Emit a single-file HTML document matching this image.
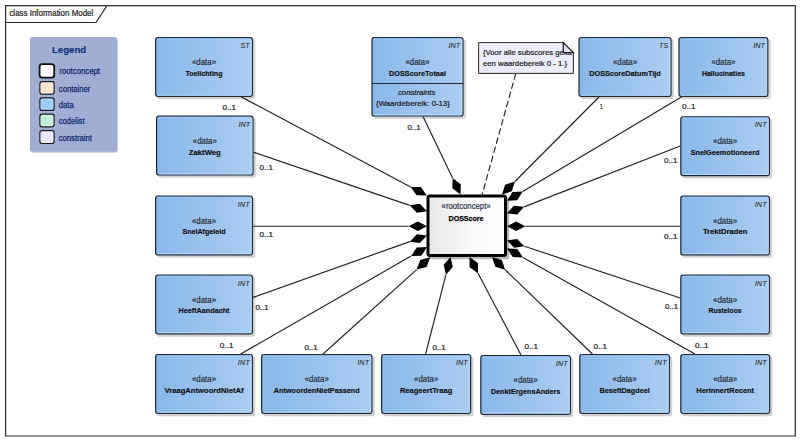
<!DOCTYPE html>
<html><head><meta charset="utf-8"><title>class Information Model</title>
<style>
html,body{margin:0;padding:0;background:#fff;}
svg{display:block;font-family:"Liberation Sans",sans-serif;}
</style></head><body>
<svg width="800" height="441" viewBox="0 0 800 441">
<defs>
<linearGradient id="gd" x1="0" y1="0" x2="1" y2="0"><stop offset="0" stop-color="#8ab8ea"/><stop offset="1" stop-color="#abcdf1"/></linearGradient>
<linearGradient id="gr" x1="0" y1="0" x2="1" y2="0"><stop offset="0" stop-color="#e8e8e8"/><stop offset="0.6" stop-color="#fafafa"/><stop offset="1" stop-color="#ffffff"/></linearGradient>
<filter id="sh" x="-10%" y="-10%" width="130%" height="130%"><feGaussianBlur stdDeviation="0.6"/></filter>
</defs>
<rect x="0" y="0" width="800" height="441" fill="#ffffff"/>

<path d="M5.6 5.6 H795.3 V436.0 H5.6 Z" fill="none" stroke="#2b2b2b" stroke-width="1.2"/>
<path d="M5.6 22.5 H96 L107 5.6" fill="none" stroke="#2b2b2b" stroke-width="1.2"/>
<text x="9.40" y="16.00" font-size="8.2" font-weight="normal" font-style="normal" fill="#222" textLength="83.90" lengthAdjust="spacingAndGlyphs" stroke="#222" stroke-width="0.2">class Information Model</text>
<rect x="31" y="38.2" width="87.2" height="114.8" rx="2.5" fill="#d4d8e4" filter="url(#sh)"/>
<rect x="30" y="37" width="87.2" height="114.8" rx="2.5" fill="#a0aed4"/>
<text x="51.90" y="53.00" font-size="9.8" font-weight="bold" font-style="normal" fill="#10307a" textLength="34.35" lengthAdjust="spacingAndGlyphs" stroke="#10307a" stroke-width="0.18">Legend</text>
<rect x="39.6" y="64.15" width="14.6" height="13.45" rx="2.6" fill="#ffffff" stroke="#111" stroke-width="1.8"/>
<text x="59.40" y="74.30" font-size="8.3" font-weight="normal" font-style="normal" fill="#10296a" textLength="40.60" lengthAdjust="spacingAndGlyphs" stroke="#10296a" stroke-width="0.25">rootconcept</text>
<rect x="39.9" y="81.70" width="14.2" height="12.50" rx="2.2" fill="#fbe4d2" stroke="#1a1a1a" stroke-width="1.2"/>
<rect x="41.1" y="82.90" width="11.8" height="10.10" rx="1.2" fill="none" stroke="#ffffff" stroke-opacity="0.45" stroke-width="0.8"/>
<text x="58.80" y="91.80" font-size="8.3" font-weight="normal" font-style="normal" fill="#10296a" textLength="31.60" lengthAdjust="spacingAndGlyphs" stroke="#10296a" stroke-width="0.25">container</text>
<rect x="39.9" y="97.90" width="14.2" height="12.50" rx="2.2" fill="#9ccdfc" stroke="#1a1a1a" stroke-width="1.2"/>
<rect x="41.1" y="99.10" width="11.8" height="10.10" rx="1.2" fill="none" stroke="#ffffff" stroke-opacity="0.45" stroke-width="0.8"/>
<text x="58.80" y="107.90" font-size="8.3" font-weight="normal" font-style="normal" fill="#10296a" textLength="14.90" lengthAdjust="spacingAndGlyphs" stroke="#10296a" stroke-width="0.25">data</text>
<rect x="39.9" y="114.20" width="14.2" height="12.60" rx="2.2" fill="#c4ecdc" stroke="#1a1a1a" stroke-width="1.2"/>
<rect x="41.1" y="115.40" width="11.8" height="10.20" rx="1.2" fill="none" stroke="#ffffff" stroke-opacity="0.45" stroke-width="0.8"/>
<text x="58.80" y="124.10" font-size="8.3" font-weight="normal" font-style="normal" fill="#10296a" textLength="25.70" lengthAdjust="spacingAndGlyphs" stroke="#10296a" stroke-width="0.25">codelist</text>
<rect x="39.9" y="130.60" width="14.2" height="12.90" rx="2.2" fill="#e8e8fc" stroke="#1a1a1a" stroke-width="1.2"/>
<rect x="41.1" y="131.80" width="11.8" height="10.50" rx="1.2" fill="none" stroke="#ffffff" stroke-opacity="0.45" stroke-width="0.8"/>
<text x="58.80" y="140.80" font-size="8.3" font-weight="normal" font-style="normal" fill="#10296a" textLength="33.10" lengthAdjust="spacingAndGlyphs" stroke="#10296a" stroke-width="0.25">constraint</text>
<rect x="157.20" y="39.20" width="98.00" height="60.00" rx="2.5" fill="#d0d0d0" filter="url(#sh)"/>
<rect x="158.20" y="117.80" width="97.60" height="60.00" rx="2.5" fill="#d0d0d0" filter="url(#sh)"/>
<rect x="157.20" y="197.70" width="98.00" height="60.00" rx="2.5" fill="#d0d0d0" filter="url(#sh)"/>
<rect x="157.20" y="276.70" width="98.00" height="60.00" rx="2.5" fill="#d0d0d0" filter="url(#sh)"/>
<rect x="157.20" y="356.20" width="98.00" height="60.00" rx="2.5" fill="#d0d0d0" filter="url(#sh)"/>
<rect x="263.20" y="356.20" width="111.50" height="60.00" rx="2.5" fill="#d0d0d0" filter="url(#sh)"/>
<rect x="383.20" y="356.20" width="90.20" height="60.00" rx="2.5" fill="#d0d0d0" filter="url(#sh)"/>
<rect x="482.40" y="357.20" width="90.80" height="60.00" rx="2.5" fill="#d0d0d0" filter="url(#sh)"/>
<rect x="581.40" y="356.20" width="90.80" height="60.00" rx="2.5" fill="#d0d0d0" filter="url(#sh)"/>
<rect x="682.40" y="356.20" width="90.00" height="60.00" rx="2.5" fill="#d0d0d0" filter="url(#sh)"/>
<rect x="682.40" y="276.70" width="89.80" height="60.00" rx="2.5" fill="#d0d0d0" filter="url(#sh)"/>
<rect x="682.40" y="197.70" width="89.80" height="60.00" rx="2.5" fill="#d0d0d0" filter="url(#sh)"/>
<rect x="682.40" y="118.40" width="89.80" height="60.00" rx="2.5" fill="#d0d0d0" filter="url(#sh)"/>
<rect x="680.60" y="39.20" width="90.00" height="60.00" rx="2.5" fill="#d0d0d0" filter="url(#sh)"/>
<rect x="580.60" y="39.20" width="93.20" height="60.00" rx="2.5" fill="#d0d0d0" filter="url(#sh)"/>
<rect x="373.60" y="39.20" width="92.20" height="79.60" rx="2.5" fill="#d0d0d0" filter="url(#sh)"/>
<rect x="429.3" y="197.3" width="80" height="62" rx="2.5" fill="#b8b8b8" filter="url(#sh)"/>
<line x1="241.00" y1="96.80" x2="410.64" y2="186.91" stroke="#202020" stroke-width="1.15"/>
<polygon points="426.80,195.50 420.92,187.06 410.64,186.91 416.51,195.36" fill="#000"/>
<line x1="253.60" y1="152.20" x2="409.68" y2="205.35" stroke="#202020" stroke-width="1.15"/>
<polygon points="427.00,211.25 419.85,203.85 409.68,205.35 416.82,212.75" fill="#000"/>
<line x1="253.00" y1="226.20" x2="408.70" y2="226.20" stroke="#202020" stroke-width="1.15"/>
<polygon points="427.00,226.20 417.85,221.50 408.70,226.20 417.85,230.90" fill="#000"/>
<line x1="253.00" y1="297.40" x2="409.76" y2="241.63" stroke="#202020" stroke-width="1.15"/>
<polygon points="427.00,235.50 416.80,234.14 409.76,241.63 419.95,242.99" fill="#000"/>
<line x1="240.70" y1="354.00" x2="411.13" y2="256.11" stroke="#202020" stroke-width="1.15"/>
<polygon points="427.00,247.00 416.72,247.48 411.13,256.11 421.41,255.63" fill="#000"/>
<line x1="323.00" y1="354.00" x2="416.61" y2="269.56" stroke="#202020" stroke-width="1.15"/>
<polygon points="430.20,257.30 420.26,259.94 416.61,269.56 426.55,266.92" fill="#000"/>
<line x1="425.60" y1="354.00" x2="445.95" y2="274.73" stroke="#202020" stroke-width="1.15"/>
<polygon points="450.50,257.00 443.67,264.69 445.95,274.73 452.78,267.03" fill="#000"/>
<line x1="521.00" y1="355.00" x2="478.01" y2="273.20" stroke="#202020" stroke-width="1.15"/>
<polygon points="469.50,257.00 469.60,267.29 478.01,273.20 477.92,262.91" fill="#000"/>
<line x1="592.40" y1="354.00" x2="505.16" y2="269.72" stroke="#202020" stroke-width="1.15"/>
<polygon points="492.00,257.00 495.31,266.74 505.16,269.72 501.85,259.98" fill="#000"/>
<line x1="695.00" y1="354.00" x2="522.96" y2="257.46" stroke="#202020" stroke-width="1.15"/>
<polygon points="507.00,248.50 512.68,257.08 522.96,257.46 517.28,248.88" fill="#000"/>
<line x1="680.20" y1="298.00" x2="524.37" y2="246.27" stroke="#202020" stroke-width="1.15"/>
<polygon points="507.00,240.50 514.20,247.84 524.37,246.27 517.16,238.92" fill="#000"/>
<line x1="680.20" y1="226.20" x2="525.30" y2="226.20" stroke="#202020" stroke-width="1.15"/>
<polygon points="507.00,226.20 516.15,230.90 525.30,226.20 516.15,221.50" fill="#000"/>
<line x1="680.20" y1="146.00" x2="524.05" y2="206.85" stroke="#202020" stroke-width="1.15"/>
<polygon points="507.00,213.50 517.23,214.56 524.05,206.85 513.82,205.80" fill="#000"/>
<line x1="681.40" y1="97.00" x2="522.73" y2="191.44" stroke="#202020" stroke-width="1.15"/>
<polygon points="507.00,200.80 517.27,200.16 522.73,191.44 512.46,192.08" fill="#000"/>
<line x1="599.00" y1="97.00" x2="514.91" y2="181.53" stroke="#202020" stroke-width="1.15"/>
<polygon points="502.00,194.50 511.79,191.33 514.91,181.53 505.12,184.70" fill="#000"/>
<line x1="423.00" y1="116.60" x2="452.56" y2="178.01" stroke="#202020" stroke-width="1.15"/>
<polygon points="460.50,194.50 460.77,184.22 452.56,178.01 452.30,188.29" fill="#000"/>
<line x1="515.8" y1="73.4" x2="482.2" y2="194.5" stroke="#1a1a1a" stroke-width="1.1" stroke-dasharray="6.5 3"/>
<rect x="155.60" y="37.60" width="96.80" height="58.80" rx="2.3" fill="url(#gd)" stroke="#1e2733" stroke-width="1.2"/>
<path d="M157.20 38.70 H251.00" stroke="#9ccbfb" stroke-width="0.9" fill="none"/>
<path d="M251.20 39.50 V95.20 H157.50" stroke="#b9dcfe" stroke-width="0.9" fill="none"/>
<text x="240.50" y="48.10" font-size="7.4" font-weight="normal" font-style="italic" fill="#262626" textLength="9.10" lengthAdjust="spacingAndGlyphs" stroke="#262626" stroke-width="0.05">ST</text>
<text x="192.00" y="65.20" font-size="8.3" font-weight="normal" font-style="normal" fill="#27303c" textLength="24.00" lengthAdjust="spacingAndGlyphs" stroke="#27303c" stroke-width="0.2">«data»</text>
<text x="185.55" y="75.90" font-size="7.8" font-weight="bold" font-style="normal" fill="#111" textLength="36.90" lengthAdjust="spacingAndGlyphs" stroke="#111" stroke-width="0.18">Toelichting</text>
<rect x="156.60" y="116.20" width="96.40" height="58.80" rx="2.3" fill="url(#gd)" stroke="#1e2733" stroke-width="1.2"/>
<path d="M158.20 117.30 H251.60" stroke="#9ccbfb" stroke-width="0.9" fill="none"/>
<path d="M251.80 118.10 V173.80 H158.50" stroke="#b9dcfe" stroke-width="0.9" fill="none"/>
<text x="238.45" y="126.70" font-size="7.4" font-weight="normal" font-style="italic" fill="#262626" textLength="11.75" lengthAdjust="spacingAndGlyphs" stroke="#262626" stroke-width="0.05">INT</text>
<text x="192.80" y="143.80" font-size="8.3" font-weight="normal" font-style="normal" fill="#27303c" textLength="24.00" lengthAdjust="spacingAndGlyphs" stroke="#27303c" stroke-width="0.2">«data»</text>
<text x="188.80" y="154.50" font-size="7.8" font-weight="bold" font-style="normal" fill="#111" textLength="32.00" lengthAdjust="spacingAndGlyphs" stroke="#111" stroke-width="0.18">ZaktWeg</text>
<rect x="155.60" y="196.10" width="96.80" height="58.80" rx="2.3" fill="url(#gd)" stroke="#1e2733" stroke-width="1.2"/>
<path d="M157.20 197.20 H251.00" stroke="#9ccbfb" stroke-width="0.9" fill="none"/>
<path d="M251.20 198.00 V253.70 H157.50" stroke="#b9dcfe" stroke-width="0.9" fill="none"/>
<text x="237.85" y="206.60" font-size="7.4" font-weight="normal" font-style="italic" fill="#262626" textLength="11.75" lengthAdjust="spacingAndGlyphs" stroke="#262626" stroke-width="0.05">INT</text>
<text x="192.00" y="223.70" font-size="8.3" font-weight="normal" font-style="normal" fill="#27303c" textLength="24.00" lengthAdjust="spacingAndGlyphs" stroke="#27303c" stroke-width="0.2">«data»</text>
<text x="182.50" y="234.40" font-size="7.8" font-weight="bold" font-style="normal" fill="#111" textLength="43.00" lengthAdjust="spacingAndGlyphs" stroke="#111" stroke-width="0.18">SnelAfgeleid</text>
<rect x="155.60" y="275.10" width="96.80" height="58.80" rx="2.3" fill="url(#gd)" stroke="#1e2733" stroke-width="1.2"/>
<path d="M157.20 276.20 H251.00" stroke="#9ccbfb" stroke-width="0.9" fill="none"/>
<path d="M251.20 277.00 V332.70 H157.50" stroke="#b9dcfe" stroke-width="0.9" fill="none"/>
<text x="237.85" y="285.60" font-size="7.4" font-weight="normal" font-style="italic" fill="#262626" textLength="11.75" lengthAdjust="spacingAndGlyphs" stroke="#262626" stroke-width="0.05">INT</text>
<text x="192.00" y="302.70" font-size="8.3" font-weight="normal" font-style="normal" fill="#27303c" textLength="24.00" lengthAdjust="spacingAndGlyphs" stroke="#27303c" stroke-width="0.2">«data»</text>
<text x="178.50" y="313.40" font-size="7.8" font-weight="bold" font-style="normal" fill="#111" textLength="51.00" lengthAdjust="spacingAndGlyphs" stroke="#111" stroke-width="0.18">HeeftAandacht</text>
<rect x="155.60" y="354.60" width="96.80" height="58.80" rx="2.3" fill="url(#gd)" stroke="#1e2733" stroke-width="1.2"/>
<path d="M157.20 355.70 H251.00" stroke="#9ccbfb" stroke-width="0.9" fill="none"/>
<path d="M251.20 356.50 V412.20 H157.50" stroke="#b9dcfe" stroke-width="0.9" fill="none"/>
<text x="237.85" y="365.10" font-size="7.4" font-weight="normal" font-style="italic" fill="#262626" textLength="11.75" lengthAdjust="spacingAndGlyphs" stroke="#262626" stroke-width="0.05">INT</text>
<text x="192.00" y="382.20" font-size="8.3" font-weight="normal" font-style="normal" fill="#27303c" textLength="24.00" lengthAdjust="spacingAndGlyphs" stroke="#27303c" stroke-width="0.2">«data»</text>
<text x="164.50" y="392.90" font-size="7.8" font-weight="bold" font-style="normal" fill="#111" textLength="79.00" lengthAdjust="spacingAndGlyphs" stroke="#111" stroke-width="0.18">VraagAntwoordNietAf</text>
<rect x="261.60" y="354.60" width="110.30" height="58.80" rx="2.3" fill="url(#gd)" stroke="#1e2733" stroke-width="1.2"/>
<path d="M263.20 355.70 H370.50" stroke="#9ccbfb" stroke-width="0.9" fill="none"/>
<path d="M370.70 356.50 V412.20 H263.50" stroke="#b9dcfe" stroke-width="0.9" fill="none"/>
<text x="357.35" y="365.10" font-size="7.4" font-weight="normal" font-style="italic" fill="#262626" textLength="11.75" lengthAdjust="spacingAndGlyphs" stroke="#262626" stroke-width="0.05">INT</text>
<text x="304.75" y="382.20" font-size="8.3" font-weight="normal" font-style="normal" fill="#27303c" textLength="24.00" lengthAdjust="spacingAndGlyphs" stroke="#27303c" stroke-width="0.2">«data»</text>
<text x="273.85" y="392.90" font-size="7.8" font-weight="bold" font-style="normal" fill="#111" textLength="85.80" lengthAdjust="spacingAndGlyphs" stroke="#111" stroke-width="0.18">AntwoordenNietPassend</text>
<rect x="381.60" y="354.60" width="89.00" height="58.80" rx="2.3" fill="url(#gd)" stroke="#1e2733" stroke-width="1.2"/>
<path d="M383.20 355.70 H469.20" stroke="#9ccbfb" stroke-width="0.9" fill="none"/>
<path d="M469.40 356.50 V412.20 H383.50" stroke="#b9dcfe" stroke-width="0.9" fill="none"/>
<text x="456.05" y="365.10" font-size="7.4" font-weight="normal" font-style="italic" fill="#262626" textLength="11.75" lengthAdjust="spacingAndGlyphs" stroke="#262626" stroke-width="0.05">INT</text>
<text x="414.10" y="382.20" font-size="8.3" font-weight="normal" font-style="normal" fill="#27303c" textLength="24.00" lengthAdjust="spacingAndGlyphs" stroke="#27303c" stroke-width="0.2">«data»</text>
<text x="399.90" y="392.90" font-size="7.8" font-weight="bold" font-style="normal" fill="#111" textLength="52.40" lengthAdjust="spacingAndGlyphs" stroke="#111" stroke-width="0.18">ReageertTraag</text>
<rect x="480.80" y="355.60" width="89.60" height="58.80" rx="2.3" fill="url(#gd)" stroke="#1e2733" stroke-width="1.2"/>
<path d="M482.40 356.70 H569.00" stroke="#9ccbfb" stroke-width="0.9" fill="none"/>
<path d="M569.20 357.50 V413.20 H482.70" stroke="#b9dcfe" stroke-width="0.9" fill="none"/>
<text x="555.85" y="366.10" font-size="7.4" font-weight="normal" font-style="italic" fill="#262626" textLength="11.75" lengthAdjust="spacingAndGlyphs" stroke="#262626" stroke-width="0.05">INT</text>
<text x="513.60" y="383.20" font-size="8.3" font-weight="normal" font-style="normal" fill="#27303c" textLength="24.00" lengthAdjust="spacingAndGlyphs" stroke="#27303c" stroke-width="0.2">«data»</text>
<text x="490.90" y="393.90" font-size="7.8" font-weight="bold" font-style="normal" fill="#111" textLength="69.40" lengthAdjust="spacingAndGlyphs" stroke="#111" stroke-width="0.18">DenktErgensAnders</text>
<rect x="579.80" y="354.60" width="89.60" height="58.80" rx="2.3" fill="url(#gd)" stroke="#1e2733" stroke-width="1.2"/>
<path d="M581.40 355.70 H668.00" stroke="#9ccbfb" stroke-width="0.9" fill="none"/>
<path d="M668.20 356.50 V412.20 H581.70" stroke="#b9dcfe" stroke-width="0.9" fill="none"/>
<text x="654.85" y="365.10" font-size="7.4" font-weight="normal" font-style="italic" fill="#262626" textLength="11.75" lengthAdjust="spacingAndGlyphs" stroke="#262626" stroke-width="0.05">INT</text>
<text x="612.60" y="382.20" font-size="8.3" font-weight="normal" font-style="normal" fill="#27303c" textLength="24.00" lengthAdjust="spacingAndGlyphs" stroke="#27303c" stroke-width="0.2">«data»</text>
<text x="599.40" y="392.90" font-size="7.8" font-weight="bold" font-style="normal" fill="#111" textLength="50.40" lengthAdjust="spacingAndGlyphs" stroke="#111" stroke-width="0.18">BeseftDagdeel</text>
<rect x="680.80" y="354.60" width="88.80" height="58.80" rx="2.3" fill="url(#gd)" stroke="#1e2733" stroke-width="1.2"/>
<path d="M682.40 355.70 H768.20" stroke="#9ccbfb" stroke-width="0.9" fill="none"/>
<path d="M768.40 356.50 V412.20 H682.70" stroke="#b9dcfe" stroke-width="0.9" fill="none"/>
<text x="755.05" y="365.10" font-size="7.4" font-weight="normal" font-style="italic" fill="#262626" textLength="11.75" lengthAdjust="spacingAndGlyphs" stroke="#262626" stroke-width="0.05">INT</text>
<text x="713.20" y="382.20" font-size="8.3" font-weight="normal" font-style="normal" fill="#27303c" textLength="24.00" lengthAdjust="spacingAndGlyphs" stroke="#27303c" stroke-width="0.2">«data»</text>
<text x="696.35" y="392.90" font-size="7.8" font-weight="bold" font-style="normal" fill="#111" textLength="57.70" lengthAdjust="spacingAndGlyphs" stroke="#111" stroke-width="0.18">HerinnertRecent</text>
<rect x="680.80" y="275.10" width="88.60" height="58.80" rx="2.3" fill="url(#gd)" stroke="#1e2733" stroke-width="1.2"/>
<path d="M682.40 276.20 H768.00" stroke="#9ccbfb" stroke-width="0.9" fill="none"/>
<path d="M768.20 277.00 V332.70 H682.70" stroke="#b9dcfe" stroke-width="0.9" fill="none"/>
<text x="754.85" y="285.60" font-size="7.4" font-weight="normal" font-style="italic" fill="#262626" textLength="11.75" lengthAdjust="spacingAndGlyphs" stroke="#262626" stroke-width="0.05">INT</text>
<text x="713.10" y="302.70" font-size="8.3" font-weight="normal" font-style="normal" fill="#27303c" textLength="24.00" lengthAdjust="spacingAndGlyphs" stroke="#27303c" stroke-width="0.2">«data»</text>
<text x="708.50" y="313.40" font-size="7.8" font-weight="bold" font-style="normal" fill="#111" textLength="33.20" lengthAdjust="spacingAndGlyphs" stroke="#111" stroke-width="0.18">Rusteloos</text>
<rect x="680.80" y="196.10" width="88.60" height="58.80" rx="2.3" fill="url(#gd)" stroke="#1e2733" stroke-width="1.2"/>
<path d="M682.40 197.20 H768.00" stroke="#9ccbfb" stroke-width="0.9" fill="none"/>
<path d="M768.20 198.00 V253.70 H682.70" stroke="#b9dcfe" stroke-width="0.9" fill="none"/>
<text x="754.85" y="206.60" font-size="7.4" font-weight="normal" font-style="italic" fill="#262626" textLength="11.75" lengthAdjust="spacingAndGlyphs" stroke="#262626" stroke-width="0.05">INT</text>
<text x="713.10" y="223.70" font-size="8.3" font-weight="normal" font-style="normal" fill="#27303c" textLength="24.00" lengthAdjust="spacingAndGlyphs" stroke="#27303c" stroke-width="0.2">«data»</text>
<text x="702.90" y="234.40" font-size="7.8" font-weight="bold" font-style="normal" fill="#111" textLength="44.40" lengthAdjust="spacingAndGlyphs" stroke="#111" stroke-width="0.18">TrektDraden</text>
<rect x="680.80" y="116.80" width="88.60" height="58.80" rx="2.3" fill="url(#gd)" stroke="#1e2733" stroke-width="1.2"/>
<path d="M682.40 117.90 H768.00" stroke="#9ccbfb" stroke-width="0.9" fill="none"/>
<path d="M768.20 118.70 V174.40 H682.70" stroke="#b9dcfe" stroke-width="0.9" fill="none"/>
<text x="754.85" y="127.30" font-size="7.4" font-weight="normal" font-style="italic" fill="#262626" textLength="11.75" lengthAdjust="spacingAndGlyphs" stroke="#262626" stroke-width="0.05">INT</text>
<text x="713.10" y="144.40" font-size="8.3" font-weight="normal" font-style="normal" fill="#27303c" textLength="24.00" lengthAdjust="spacingAndGlyphs" stroke="#27303c" stroke-width="0.2">«data»</text>
<text x="690.70" y="155.10" font-size="7.8" font-weight="bold" font-style="normal" fill="#111" textLength="68.80" lengthAdjust="spacingAndGlyphs" stroke="#111" stroke-width="0.18">SnelGeemotioneerd</text>
<rect x="679.00" y="37.60" width="88.80" height="58.80" rx="2.3" fill="url(#gd)" stroke="#1e2733" stroke-width="1.2"/>
<path d="M680.60 38.70 H766.40" stroke="#9ccbfb" stroke-width="0.9" fill="none"/>
<path d="M766.60 39.50 V95.20 H680.90" stroke="#b9dcfe" stroke-width="0.9" fill="none"/>
<text x="753.25" y="48.10" font-size="7.4" font-weight="normal" font-style="italic" fill="#262626" textLength="11.75" lengthAdjust="spacingAndGlyphs" stroke="#262626" stroke-width="0.05">INT</text>
<text x="711.40" y="65.20" font-size="8.3" font-weight="normal" font-style="normal" fill="#27303c" textLength="24.00" lengthAdjust="spacingAndGlyphs" stroke="#27303c" stroke-width="0.2">«data»</text>
<text x="701.90" y="75.90" font-size="7.8" font-weight="bold" font-style="normal" fill="#111" textLength="43.00" lengthAdjust="spacingAndGlyphs" stroke="#111" stroke-width="0.18">Hallucinaties</text>
<rect x="579.00" y="37.60" width="92.00" height="58.80" rx="2.3" fill="url(#gd)" stroke="#1e2733" stroke-width="1.2"/>
<path d="M580.60 38.70 H669.60" stroke="#9ccbfb" stroke-width="0.9" fill="none"/>
<path d="M669.80 39.50 V95.20 H580.90" stroke="#b9dcfe" stroke-width="0.9" fill="none"/>
<text x="659.10" y="48.10" font-size="7.4" font-weight="normal" font-style="italic" fill="#262626" textLength="9.10" lengthAdjust="spacingAndGlyphs" stroke="#262626" stroke-width="0.05">TS</text>
<text x="613.00" y="65.20" font-size="8.3" font-weight="normal" font-style="normal" fill="#27303c" textLength="24.00" lengthAdjust="spacingAndGlyphs" stroke="#27303c" stroke-width="0.2">«data»</text>
<text x="589.20" y="75.90" font-size="7.8" font-weight="bold" font-style="normal" fill="#111" textLength="71.60" lengthAdjust="spacingAndGlyphs" stroke="#111" stroke-width="0.18">DOSScoreDatumTijd</text>
<rect x="372.00" y="37.60" width="91.00" height="78.40" rx="2.3" fill="url(#gd)" stroke="#1e2733" stroke-width="1.2"/>
<path d="M373.60 38.70 H461.60" stroke="#9ccbfb" stroke-width="0.9" fill="none"/>
<path d="M461.80 39.50 V114.80 H373.90" stroke="#b9dcfe" stroke-width="0.9" fill="none"/>
<text x="448.45" y="48.10" font-size="7.4" font-weight="normal" font-style="italic" fill="#262626" textLength="11.75" lengthAdjust="spacingAndGlyphs" stroke="#262626" stroke-width="0.05">INT</text>
<text x="405.50" y="65.20" font-size="8.3" font-weight="normal" font-style="normal" fill="#27303c" textLength="24.00" lengthAdjust="spacingAndGlyphs" stroke="#27303c" stroke-width="0.2">«data»</text>
<text x="389.00" y="75.90" font-size="7.8" font-weight="bold" font-style="normal" fill="#111" textLength="57.00" lengthAdjust="spacingAndGlyphs" stroke="#111" stroke-width="0.18">DOSScoreTotaal</text>
<line x1="372.00" y1="83.5" x2="463.00" y2="83.5" stroke="#1e2733" stroke-width="1.1"/>
<text x="398.00" y="94.50" font-size="7.6" font-weight="normal" font-style="italic" fill="#1a1a1a" textLength="37.40" lengthAdjust="spacingAndGlyphs" stroke="#1a1a1a" stroke-width="0.2">constraints</text>
<text x="376.00" y="106.00" font-size="7.8" font-weight="normal" font-style="normal" fill="#1a1a1a" textLength="74.00" lengthAdjust="spacingAndGlyphs" stroke="#1a1a1a" stroke-width="0.2">{Waardebereik: 0-13}</text>
<path d="M478.6 42.6 H563.3 L573.4 52.7 V73.4 H478.6 Z" fill="#ececfc" stroke="#2a2a2a" stroke-width="1"/>
<text x="483.00" y="55.00" font-size="7.8" font-weight="normal" font-style="normal" fill="#1a1a1a" textLength="89.00" lengthAdjust="spacingAndGlyphs" stroke="#1a1a1a" stroke-width="0.2">{Voor alle subscores geldt</text>
<text x="483.00" y="66.00" font-size="7.8" font-weight="normal" font-style="normal" fill="#1a1a1a" textLength="84.00" lengthAdjust="spacingAndGlyphs" stroke="#1a1a1a" stroke-width="0.2">een waardebereik 0 - 1.}</text>
<path d="M563.3 42.6 L573.4 52.7 H563.3 Z" fill="#e2e2f4" stroke="#1a1a1a" stroke-width="1.2" stroke-linejoin="miter"/>
<rect x="428" y="196" width="77.5" height="59.5" rx="1.8" fill="url(#gr)" stroke="#000" stroke-width="3"/>
<text x="441.60" y="209.00" font-size="8.2" font-weight="normal" font-style="normal" fill="#2c3848" textLength="49.00" lengthAdjust="spacingAndGlyphs" stroke="#2c3848" stroke-width="0.2">«rootconcept»</text>
<text x="448.60" y="220.50" font-size="8.1" font-weight="bold" font-style="normal" fill="#000" textLength="34.80" lengthAdjust="spacingAndGlyphs" stroke="#000" stroke-width="0.25">DOSScore</text>
<text x="222.50" y="109.50" font-size="7.2" font-weight="normal" font-style="normal" fill="#1a1a1a" textLength="13.50" lengthAdjust="spacingAndGlyphs" stroke="#1a1a1a" stroke-width="0.2">0..1</text>
<text x="259.60" y="169.60" font-size="7.2" font-weight="normal" font-style="normal" fill="#1a1a1a" textLength="13.40" lengthAdjust="spacingAndGlyphs" stroke="#1a1a1a" stroke-width="0.2">0..1</text>
<text x="259.40" y="236.60" font-size="7.2" font-weight="normal" font-style="normal" fill="#1a1a1a" textLength="13.60" lengthAdjust="spacingAndGlyphs" stroke="#1a1a1a" stroke-width="0.2">0..1</text>
<text x="255.40" y="310.00" font-size="7.2" font-weight="normal" font-style="normal" fill="#1a1a1a" textLength="13.40" lengthAdjust="spacingAndGlyphs" stroke="#1a1a1a" stroke-width="0.2">0..1</text>
<text x="219.80" y="347.80" font-size="7.2" font-weight="normal" font-style="normal" fill="#1a1a1a" textLength="13.70" lengthAdjust="spacingAndGlyphs" stroke="#1a1a1a" stroke-width="0.2">0..1</text>
<text x="304.40" y="350.40" font-size="7.2" font-weight="normal" font-style="normal" fill="#1a1a1a" textLength="13.40" lengthAdjust="spacingAndGlyphs" stroke="#1a1a1a" stroke-width="0.2">0..1</text>
<text x="432.40" y="349.60" font-size="7.2" font-weight="normal" font-style="normal" fill="#1a1a1a" textLength="13.40" lengthAdjust="spacingAndGlyphs" stroke="#1a1a1a" stroke-width="0.2">0..1</text>
<text x="524.40" y="349.00" font-size="7.2" font-weight="normal" font-style="normal" fill="#1a1a1a" textLength="13.60" lengthAdjust="spacingAndGlyphs" stroke="#1a1a1a" stroke-width="0.2">0..1</text>
<text x="593.40" y="349.00" font-size="7.2" font-weight="normal" font-style="normal" fill="#1a1a1a" textLength="13.60" lengthAdjust="spacingAndGlyphs" stroke="#1a1a1a" stroke-width="0.2">0..1</text>
<text x="695.00" y="347.80" font-size="7.2" font-weight="normal" font-style="normal" fill="#1a1a1a" textLength="13.50" lengthAdjust="spacingAndGlyphs" stroke="#1a1a1a" stroke-width="0.2">0..1</text>
<text x="665.00" y="309.40" font-size="7.2" font-weight="normal" font-style="normal" fill="#1a1a1a" textLength="13.20" lengthAdjust="spacingAndGlyphs" stroke="#1a1a1a" stroke-width="0.2">0..1</text>
<text x="664.00" y="238.60" font-size="7.2" font-weight="normal" font-style="normal" fill="#1a1a1a" textLength="13.40" lengthAdjust="spacingAndGlyphs" stroke="#1a1a1a" stroke-width="0.2">0..1</text>
<text x="664.00" y="162.60" font-size="7.2" font-weight="normal" font-style="normal" fill="#1a1a1a" textLength="13.40" lengthAdjust="spacingAndGlyphs" stroke="#1a1a1a" stroke-width="0.2">0..1</text>
<text x="682.00" y="108.80" font-size="7.2" font-weight="normal" font-style="normal" fill="#1a1a1a" textLength="13.60" lengthAdjust="spacingAndGlyphs" stroke="#1a1a1a" stroke-width="0.2">0..1</text>
<text x="599.80" y="109.00" font-size="7.2" font-weight="normal" font-style="normal" fill="#1a1a1a" textLength="3.00" lengthAdjust="spacingAndGlyphs" stroke="#1a1a1a" stroke-width="0.2">1</text>
<text x="407.40" y="130.00" font-size="7.2" font-weight="normal" font-style="normal" fill="#1a1a1a" textLength="13.20" lengthAdjust="spacingAndGlyphs" stroke="#1a1a1a" stroke-width="0.2">0..1</text>
</svg>
</body></html>
